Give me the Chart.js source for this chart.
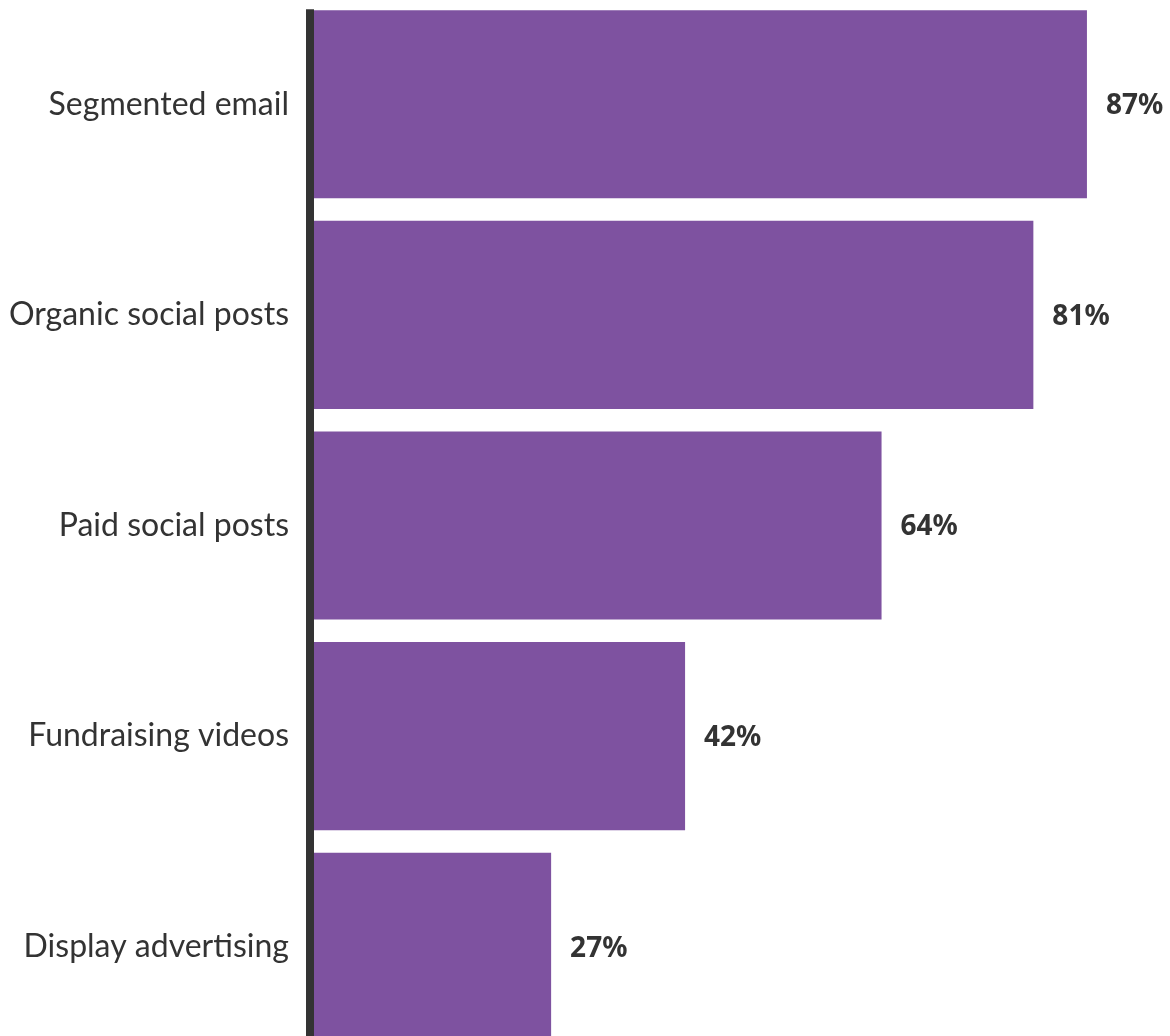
<!DOCTYPE html>
<html>
<head>
<meta charset="utf-8">
<script src="https://cdn.jsdelivr.net/npm/chart.js@4.4.0/dist/chart.umd.min.js"></script>
<style>
  html, body { margin: 0; padding: 0; background: #fff; overflow: hidden; }
  #wrap { position: absolute; left: 0; top: -1px; width: 1170px; height: 1053px; }
</style>
</head>
<body>
<div id="wrap"><canvas id="channelChart"></canvas></div>
<script>
const channels = ['Segmented email', 'Organic social posts', 'Paid social posts', 'Fundraising videos', 'Display advertising'];
const shares = [87, 81, 64, 42, 27];

// value labels at the end of each bar, plus the dark baseline at zero
const barExtras = {
  id: 'barExtras',
  afterDatasetsDraw(chart) {
    const ctx = chart.ctx;
    const meta = chart.getDatasetMeta(0);
    const x0 = chart.scales.x.getPixelForValue(0);
    const first = meta.data[0];

    ctx.save();
    ctx.fillStyle = '#333333';
    ctx.fillRect(x0 - 4, first.y - first.height / 2 - 1, 8, chart.chartArea.bottom);

    ctx.font = 'bold 28px "Noto Sans"';
    ctx.textAlign = 'left';
    ctx.textBaseline = 'middle';
    meta.data.forEach((bar, i) => {
      ctx.fillText(shares[i] + '%', bar.x + 19, bar.y + 2);
    });
    ctx.restore();
  }
};

new Chart(document.getElementById('channelChart'), {
  type: 'bar',
  data: {
    labels: channels,
    datasets: [{
      data: shares,
      backgroundColor: '#7e52a0',
      borderWidth: 0,
      barPercentage: 1,
      categoryPercentage: 0.893
    }]
  },
  options: {
    indexAxis: 'y',
    responsive: true,
    maintainAspectRatio: false,
    animation: false,
    layout: { padding: 0 },
    plugins: {
      legend: { display: false },
      tooltip: { enabled: false }
    },
    scales: {
      x: {
        display: false,
        min: 0,
        max: 96.3
      },
      y: {
        afterFit(scale) {
          scale.width = 310;
          scale.paddingTop = 0;
          scale.paddingBottom = 0;
        },
        grid: { display: false, drawTicks: false },
        border: { display: false },
        ticks: {
          padding: 21,
          color: '#333333',
          font: { family: 'Lato', size: 32, weight: '400' }
        }
      }
    }
  },
  plugins: [barExtras]
});
</script>
</body>
</html>
